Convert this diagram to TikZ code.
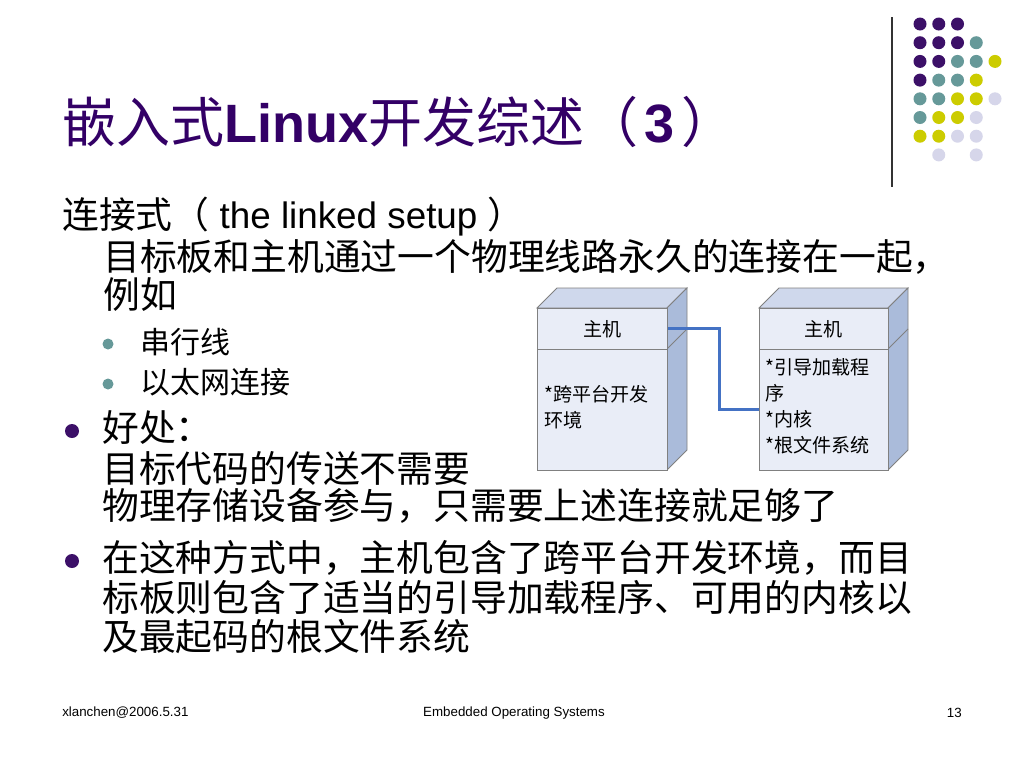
\documentclass[tikz,border=0pt]{standalone}
\usepackage{fontspec}
\setmainfont{Liberation Sans}
\newfontfamily\cjk{Noto Sans CJK SC}
\definecolor{titlepurple}{RGB}{51,0,102}
\definecolor{dotpurple}{RGB}{60,16,104}
\definecolor{dotteal}{RGB}{102,153,153}
\definecolor{dotyellow}{RGB}{204,204,0}
\definecolor{dotlav}{RGB}{214,214,234}
\definecolor{frontc}{RGB}{233,237,247}
\definecolor{topc}{RGB}{207,216,236}
\definecolor{sidec}{RGB}{170,187,218}
\definecolor{edgec}{RGB}{128,128,128}
\definecolor{linkc}{RGB}{68,114,196}
\begin{document}
\begin{tikzpicture}[x=0.75pt,y=-0.75pt,
  body/.style={anchor=west,inner sep=0pt,font=\fontsize{27.6}{33}\selectfont\cjk},
  sub/.style={anchor=west,inner sep=0pt,font=\fontsize{22.5}{27}\selectfont\cjk},
  boxtxt/.style={anchor=north west,inner sep=0pt,align=left,font=\fontsize{14.3}{19.5}\selectfont\cjk},
  face/.style={draw=edgec,line width=0.6pt},
  foot/.style={inner sep=0pt,font=\fontsize{10}{12}\selectfont},
  mainbullet/.style={fill=dotpurple},
  subbullet/.style={fill=dotteal}]
\useasboundingbox[fill=white] (0,0) rectangle (1024,768);

% decoration
\draw[line width=1.2pt,black!80] (892,17) -- (892,187);
\foreach \cx/\ry/\col in {
  0/0/dotpurple,1/0/dotpurple,2/0/dotpurple,
  0/1/dotpurple,1/1/dotpurple,2/1/dotpurple,3/1/dotteal,
  0/2/dotpurple,1/2/dotpurple,2/2/dotteal,3/2/dotteal,4/2/dotyellow,
  0/3/dotpurple,1/3/dotteal,2/3/dotteal,3/3/dotyellow,
  0/4/dotteal,1/4/dotteal,2/4/dotyellow,3/4/dotyellow,4/4/dotlav,
  0/5/dotteal,1/5/dotyellow,2/5/dotyellow,3/5/dotlav,
  0/6/dotyellow,1/6/dotyellow,2/6/dotlav,3/6/dotlav,
  1/7/dotlav,3/7/dotlav}
  \fill[\col] (920+18.75*\cx,24+18.7*\ry) circle[radius=6.5];

% title
\node (title) [anchor=west,inner sep=0pt,text=titlepurple,font=\fontsize{40.5}{48}\selectfont]
  at (62,122) {\cjk\mdseries 嵌入式\normalfont\bfseries Linux\cjk\mdseries 开发综述（\hspace{5pt}\normalfont\bfseries 3\hspace{5pt}\cjk\mdseries ）};

% body text
\node (l1) [body] at (62,217) {连接式（\normalfont\ the linked setup \cjk）};
\node (l2) [body] at (103,257) {目标板和主机通过一个物理线路永久的连接在一起，};
\node (l3) [body] at (103,295) {例如};
\fill[subbullet] (108,344) circle[radius=5.5];
\node (l4) [sub] at (140,342) {串行线};
\fill[subbullet] (108,384) circle[radius=5.5];
\node (l5) [sub] at (140,382) {以太网连接};
\fill[mainbullet] (72,431) circle[radius=7];
\node (l6) [body] at (102,428) {好处：};
\node (l7) [body] at (102,468) {目标代码的传送不需要};
\node (l8) [body] at (102,506) {物理存储设备参与，只需要上述连接就足够了};
\fill[mainbullet] (72,561) circle[radius=7];
\node (l9) [body] at (102,558) {在这种方式中，主机包含了跨平台开发环境，而目};
\node (l10) [body] at (102,598) {标板则包含了适当的引导加载程序、可用的内核以};
\node (l11) [body] at (102,637) {及最起码的根文件系统};

% left box
\fill[topc,face] (537,308) -- (557,288) -- (687,288) -- (667,308) -- cycle;
\fill[sidec,face] (667,308) -- (687,288) -- (687,450) -- (667,470) -- cycle;
\draw[edgec,line width=0.6pt] (667,349) -- (687,329);
\node (Lh) [face,fill=frontc,anchor=north west,inner sep=0pt,minimum width=97.5pt,minimum height=30.75pt,
  font=\fontsize{14.3}{17}\selectfont\cjk] at (537,308) {主机};
\node (Lb) [face,fill=frontc,anchor=north west,inner sep=0pt,minimum width=97.5pt,minimum height=90.75pt] at (537,349) {};
\node (Lt) [boxtxt] at (544,385) {*跨平台开发\\环境};

% right box
\fill[topc,face] (759,308) -- (779,288) -- (908,288) -- (888,308) -- cycle;
\fill[sidec,face] (888,308) -- (908,288) -- (908,450) -- (888,470) -- cycle;
\draw[edgec,line width=0.6pt] (888,349) -- (908,329);
\node (Rh) [face,fill=frontc,anchor=north west,inner sep=0pt,minimum width=96.75pt,minimum height=30.75pt,
  font=\fontsize{14.3}{17}\selectfont\cjk] at (759,308) {主机};
\node (Rb) [face,fill=frontc,anchor=north west,inner sep=0pt,minimum width=96.75pt,minimum height=90.75pt] at (759,349) {};
\node (Rt) [boxtxt] at (765,358) {*引导加载程\\序\\*内核\\*根文件系统};

% connector
\draw[linkc,line width=2.2pt] (Lh.east) -- ++(52,0) |- (Rb.west);

% footer
\node (f1) [foot,anchor=west] at (62,713) {xlanchen@2006.5.31};
\node (f2) [foot] at (514,713) {Embedded Operating Systems};
\node (f3) [foot,anchor=east] at (962,713) {13};
\end{tikzpicture}
\end{document}
